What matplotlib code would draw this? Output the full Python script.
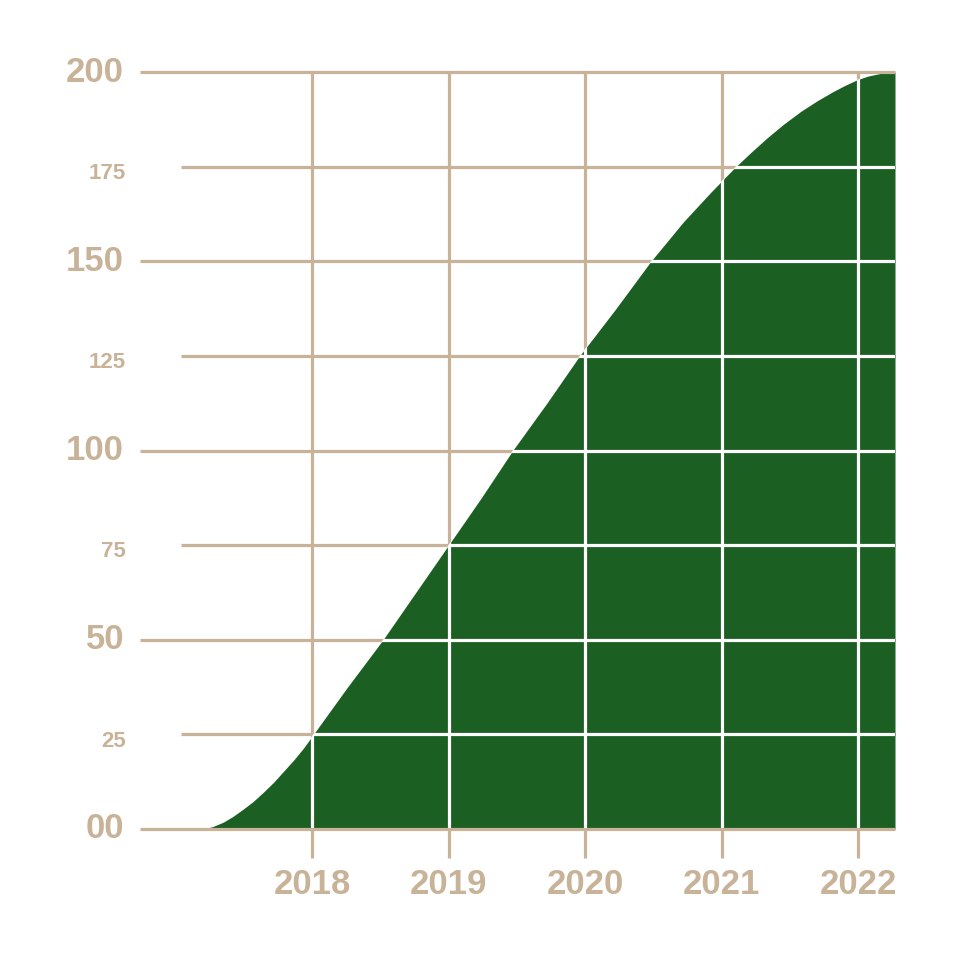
import matplotlib
matplotlib.use("Agg")
import matplotlib.pyplot as plt
import matplotlib.transforms as mtransforms

# values (year, cumulative value)
years = [2017.20, 2017.27, 2017.35, 2017.42, 2017.49, 2017.57, 2017.64,
         2017.72, 2017.79, 2017.87, 2017.94, 2018.00, 2018.26, 2018.52,
         2018.76, 2019.00, 2019.24, 2019.47, 2019.72, 2019.96, 2020.22,
         2020.48, 2020.72, 2020.92, 2021.09, 2021.21, 2021.33, 2021.45,
         2021.58, 2021.70, 2021.82, 2021.90, 2021.99, 2022.07, 2022.16,
         2022.22, 2022.27]
values = [0, 0.6, 1.8, 3.3, 5.1, 7.3, 9.6,
          12.4, 15.2, 18.4, 21.5, 24.5, 37.5, 50,
          62.5, 75, 87.5, 100, 112.5, 125, 137.2,
          149.9, 160.4, 168.2, 174.5, 178.6, 182.5, 186.1,
          189.6, 192.4, 194.9, 196.4, 197.9, 198.9, 199.6,
          199.9, 200]

year_ticks = [2018, 2019, 2020, 2021, 2022]
year_labels = ["2018", "2019", "2020", "2021", "2022"]
major_ticks = [0, 50, 100, 150, 200]
major_labels = ["00", "50", "100", "150", "200"]
minor_ticks = [25, 75, 125, 175]
minor_labels = ["25", "75", "125", "175"]

TAN = "#c8b399"
GREEN = "#1b5f23"
FONT = "Liberation Sans"

x_left, x_right = 2016.74, 2022.27
minor_start = 2017.04

fig = plt.figure(figsize=(9.6, 9.6), dpi=100)
ax = fig.add_axes([140 / 960, 1 - 829 / 960, 755 / 960, 757 / 960])
ax.set_xlim(x_left, x_right)
ax.set_ylim(0, 200)
ax.axis("off")

lw = 2.3

# tan grid underneath
for y in major_ticks[1:-1]:
    ax.plot([x_left, x_right], [y, y], color=TAN, lw=lw, zorder=1,
            solid_capstyle="butt", clip_on=False)
for y in minor_ticks:
    ax.plot([minor_start, x_right], [y, y], color=TAN, lw=lw, zorder=1,
            solid_capstyle="butt", clip_on=False)
for x in year_ticks:
    ax.plot([x, x], [-7.7, 200], color=TAN, lw=lw, zorder=1,
            solid_capstyle="butt", clip_on=False)

# green area
poly = ax.fill_between(years, values, 0, color=GREEN, lw=0, zorder=2)
clip = poly.get_paths()[0]

# white grid on top of the green area, clipped to it
for y in major_ticks[1:-1] + minor_ticks:
    ln, = ax.plot([x_left, x_right], [y, y], color="white", lw=lw, zorder=3,
                  solid_capstyle="butt")
    ln.set_clip_path(clip, ax.transData)
for x in year_ticks:
    ln, = ax.plot([x, x], [0, 200], color="white", lw=lw, zorder=3,
                  solid_capstyle="butt")
    ln.set_clip_path(clip, ax.transData)

# baseline and top line
for y in (0, 200):
    ax.plot([x_left, x_right], [y, y], color=TAN, lw=lw, zorder=4,
            solid_capstyle="butt", clip_on=False)

# labels
lab_tr = mtransforms.blended_transform_factory(fig.transFigure, ax.transData)
for y, lab in zip(major_ticks, major_labels):
    ax.text(124 / 960, y, lab, transform=lab_tr, ha="right", va="center",
            fontsize=25, fontweight="bold", color=TAN, family=FONT)
for y, lab in zip(minor_ticks, minor_labels):
    ax.text(126 / 960, y - 1.8, lab, transform=lab_tr, ha="right", va="center",
            fontsize=16, fontweight="bold", color=TAN, family=FONT)

yr_tr = mtransforms.blended_transform_factory(ax.transData, fig.transFigure)
for x, lab in zip(year_ticks, year_labels):
    ax.text(x, 1 - 885 / 960, lab, transform=yr_tr, ha="center", va="center",
            fontsize=25, fontweight="bold", color=TAN, family=FONT)

fig.savefig("out.png", dpi=100, facecolor="white")
